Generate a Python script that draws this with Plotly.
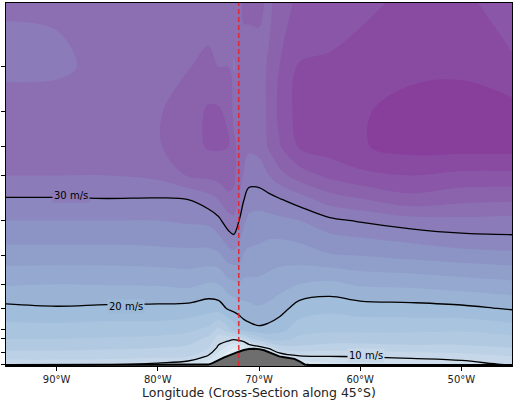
import numpy as np
import plotly.graph_objects as go

# ---------------- data ----------------
LONS = [-95, -90, -85, -80, -77, -75, -74, -73, -72.5, -72, -71.5, -71, -70,
        -69, -68, -66, -63, -60, -55, -50, -45]
PLEVS = [100, 150, 200, 250, 300, 350, 400, 450, 500, 600, 700, 800, 850,
         900, 950, 1000, 1010]

# wind speed (m/s), one column per longitude, top (100 hPa) -> bottom (1010 hPa)
WSPD_COLUMNS = [
    [32.2, 31.5, 33.0, 33.3, 32.0, 29.8, 28.0, 26.5, 25.0, 22.2, 19.5, 17.2, 16.0, 14.5, 13.0, 10.5, 8.0],  # -95
    [32.3, 31.6, 33.0, 33.4, 32.0, 29.8, 28.0, 26.5, 25.0, 22.0, 19.8, 17.2, 16.0, 14.5, 13.0, 10.5, 8.0],  # -90
    [33.0, 32.6, 33.2, 33.5, 32.0, 29.9, 28.0, 26.5, 25.0, 22.1, 19.6, 17.0, 15.8, 14.3, 12.8, 10.3, 8.0],  # -85
    [33.0, 33.3, 33.8, 33.8, 32.5, 29.8, 28.0, 26.6, 25.2, 22.2, 19.5, 17.0, 15.5, 14.0, 12.5, 9.5, 8.0],   # -80
    [33.0, 33.9, 35.0, 35.2, 34.2, 30.0, 28.3, 26.8, 25.3, 22.5, 19.3, 16.5, 15.0, 13.5, 12.0, 8.5, 7.0],   # -77
    [33.0, 34.5, 36.3, 36.2, 34.5, 31.2, 28.5, 26.8, 25.3, 21.8, 18.8, 15.5, 13.5, 12.0, 9.7, 6.0, 5.0],    # -75
    [33.0, 34.0, 36.3, 36.2, 34.8, 32.0, 29.5, 27.5, 25.5, 22.0, 19.0, 13.5, 11.0, 9.5, 6.5, 4.0, 4.0],     # -74
    [33.0, 34.0, 35.5, 36.0, 35.0, 33.5, 31.2, 29.0, 27.0, 23.3, 20.3, 15.5, 10.8, 7.0, 4.0, 4.0, 4.0],     # -73
    [33.0, 31.8, 33.5, 34.5, 34.5, 33.5, 31.5, 29.5, 27.2, 23.5, 20.7, 16.5, 10.3, 6.0, 4.0, 4.0, 4.0],     # -72.5
    [33.0, 32.5, 33.2, 33.5, 33.0, 31.8, 30.1, 28.5, 27.0, 23.8, 21.0, 17.8, 10.8, 6.0, 4.0, 4.0, 4.0],     # -72
    [34.5, 33.0, 33.0, 32.8, 31.8, 30.05, 28.5, 27.0, 25.8, 23.5, 21.3, 18.8, 11.5, 6.5, 4.0, 4.0, 4.0],    # -71.5
    [34.5, 33.0, 32.8, 32.3, 31.0, 29.0, 27.5, 26.5, 25.5, 23.5, 21.5, 19.2, 13.0, 8.0, 4.0, 4.0, 4.0],     # -71
    [34.5, 33.2, 32.8, 32.5, 31.2, 28.8, 27.3, 26.3, 25.3, 23.5, 21.8, 19.6, 15.0, 9.0, 5.0, 4.0, 4.0],     # -70
    [33.5, 34.3, 34.5, 34.3, 32.0, 29.3, 27.3, 26.0, 25.0, 23.2, 21.5, 19.3, 16.5, 10.5, 5.0, 4.0, 4.0],    # -69
    [35.0, 36.0, 36.5, 35.8, 33.3, 29.8, 27.5, 26.0, 24.8, 22.8, 20.9, 18.7, 16.8, 13.0, 8.0, 4.0, 4.0],    # -68
    [36.5, 38.2, 38.8, 38.2, 35.0, 31.0, 28.0, 26.3, 25.0, 22.0, 19.0, 17.0, 15.5, 13.5, 9.8, 6.0, 5.0],    # -66
    [37.0, 38.3, 39.2, 39.0, 36.5, 33.0, 29.5, 27.3, 25.8, 21.5, 18.5, 16.5, 15.0, 13.0, 10.0, 7.5, 7.0],   # -63
    [37.5, 38.8, 39.7, 39.8, 37.5, 33.8, 30.2, 27.8, 26.0, 22.3, 19.0, 16.5, 15.0, 13.0, 10.1, 8.0, 7.0],   # -60
    [38.5, 39.3, 41.0, 40.8, 38.0, 35.3, 31.2, 28.5, 26.5, 22.5, 19.2, 16.5, 15.0, 13.5, 10.5, 8.5, 8.0],   # -55
    [38.5, 39.5, 41.2, 40.8, 37.5, 34.5, 31.5, 29.3, 27.0, 23.0, 19.5, 16.3, 15.0, 13.5, 11.0, 9.0, 8.0],   # -50
    [37.0, 38.3, 40.8, 40.8, 37.5, 34.3, 31.3, 29.6, 27.3, 23.5, 20.2, 17.0, 15.5, 14.0, 12.0, 10.3, 9.0],  # -45
]

TERRAIN_LON = [-95, -75.5, -75, -74.6, -74, -73.5, -73, -72.5, -72, -71.5, -71,
               -70.5, -70, -69.5, -69, -68.5, -68, -67.5, -67, -66.5, -66,
               -65.5, -65, -45]
TERRAIN_P = [1004, 1004, 1001, 992, 972, 958, 945, 932, 922, 912, 906,
             905, 907, 914, 926, 940, 950, 955, 958, 965, 980,
             1000, 1004, 1004]

X_TICKS = [-90, -80, -70, -60, -50]
X_TICK_LABELS = ["90°W", "80°W", "70°W", "60°W", "50°W"]
Y_TICKS = [150, 200, 250, 300, 400, 500, 600, 700, 800, 850, 925, 1000]

LINE_LEVELS = [10, 20, 30]
LABEL_TEXT = ["30 m/s", "20 m/s", "10 m/s"]
LABEL_LON = [-88.6, -83.1, -59.4]
LABEL_P = [340, 692, 946]
LABEL_VAL = [31, 20, 11]

CROSS_LON = -72.0

# ---------------- styling ----------------
BUPU = [(247, 252, 253), (224, 236, 244), (191, 211, 230), (158, 188, 218),
        (140, 150, 198), (140, 107, 177), (136, 65, 157), (129, 15, 124),
        (77, 0, 75)]


def bupu(t):
    t = min(max(t, 0.0), 1.0)
    f = t * (len(BUPU) - 1)
    i = min(int(f), len(BUPU) - 2)
    w = f - i
    c = [BUPU[i][k] * (1 - w) + BUPU[i + 1][k] * w for k in range(3)]
    return "rgb(%d,%d,%d)" % tuple(round(v) for v in c)


V0, V1 = -2.0, 55.0          # value range spanned by the colormap
START, END, STEP = 0, 44, 2  # filled contour levels
DOM0, DOM1 = START - STEP / 2, END + STEP / 2
cscale = []
for k in range(24):
    pos = k / 23
    v = DOM0 + pos * (DOM1 - DOM0)
    cscale.append([pos, bupu((v - V0) / (V1 - V0))])

z = np.array(WSPD_COLUMNS).T

fig = go.Figure()
fig.add_trace(go.Contour(
    x=LONS, y=PLEVS, z=z,
    colorscale=cscale, showscale=False,
    contours=dict(start=START, end=END, size=STEP, coloring="fill"),
    line=dict(width=0, smoothing=1.0),
    hoverinfo="skip",
))
fig.add_trace(go.Contour(
    x=LONS, y=PLEVS, z=z,
    showscale=False,
    contours=dict(start=LINE_LEVELS[0], end=LINE_LEVELS[-1],
                  size=LINE_LEVELS[1] - LINE_LEVELS[0], coloring="none"),
    line=dict(color="black", width=1.3, smoothing=1.0),
    hoverinfo="skip",
))
fig.add_trace(go.Scatter(
    x=TERRAIN_LON + [TERRAIN_LON[-1], TERRAIN_LON[0]],
    y=TERRAIN_P + [1200, 1200],
    mode="lines", fill="toself", fillcolor="#6e6e6e",
    line=dict(color="black", width=2), hoverinfo="skip",
))

fig.add_shape(type="line", x0=CROSS_LON, x1=CROSS_LON, xref="x",
              y0=0, y1=1, yref="paper",
              line=dict(color="rgba(230,35,45,0.9)", width=1.6, dash="5px,3px"))

for txt, lo, p, v in zip(LABEL_TEXT, LABEL_LON, LABEL_P, LABEL_VAL):
    fig.add_annotation(x=lo, y=np.log10(p), text=txt, showarrow=False,
                       font=dict(size=10, color="black", family="DejaVu Sans"),
                       bgcolor=bupu((v - V0) / (V1 - V0)), borderpad=1)

fig.update_xaxes(range=[-95, -45], tickvals=X_TICKS, ticktext=X_TICK_LABELS,
                 ticks="outside", ticklen=4, tickcolor="black",
                 showline=True, linecolor="black", linewidth=1, mirror=True,
                 showgrid=False, zeroline=False,
                 tickfont=dict(size=10, color="#222", family="DejaVu Sans"),
                 title=dict(text="Longitude (Cross-Section along 45°S)",
                            font=dict(size=12.5, color="#222", family="DejaVu Sans"),
                            standoff=3))
fig.update_yaxes(type="log", range=[np.log10(1010), 2], tickvals=Y_TICKS,
                 showticklabels=False, ticks="outside", ticklen=4,
                 tickcolor="black", showline=True, linecolor="black",
                 linewidth=1, mirror=True, showgrid=False, zeroline=False)

fig.update_layout(width=514, height=402,
                  margin=dict(l=6, r=2, t=3, b=36),
                  paper_bgcolor="white", plot_bgcolor="white",
                  showlegend=False, hovermode=False,
                  font=dict(family="DejaVu Sans"))

fig.write_html("out.html",
               config={"displayModeBar": False, "staticPlot": True},
               post_script="document.body.style.margin='0';"
                           "document.body.style.overflow='hidden';")
